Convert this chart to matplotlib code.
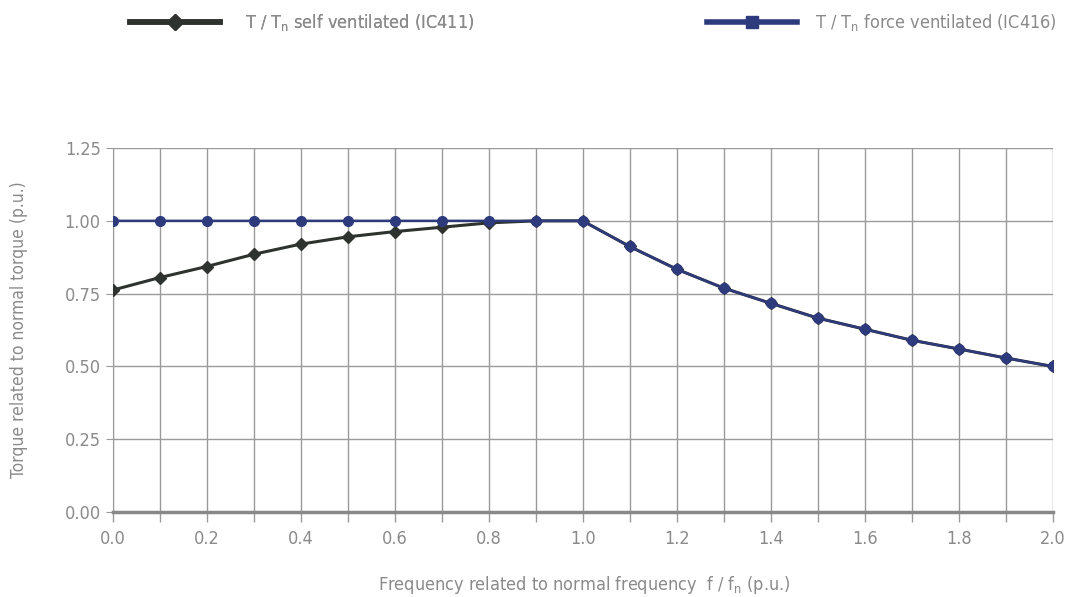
import matplotlib
matplotlib.use('Agg')
import matplotlib.pyplot as plt
from matplotlib.lines import Line2D
import numpy as np

plt.rcParams['font.family'] = ['DejaVu Sans']
plt.rcParams['font.stretch'] = 'condensed'

freq = [0.0, 0.1, 0.2, 0.3, 0.4, 0.5, 0.6, 0.7, 0.8, 0.9, 1.0,
        1.1, 1.2, 1.3, 1.4, 1.5, 1.6, 1.7, 1.8, 1.9, 2.0]
self_vent = [0.762, 0.805, 0.843, 0.885, 0.92, 0.945, 0.963, 0.978, 0.993, 1.0, 1.0,
             0.912, 0.834, 0.769, 0.717, 0.666, 0.628, 0.59, 0.56, 0.529, 0.5]
force_vent = [1.0, 1.0, 1.0, 1.0, 1.0, 1.0, 1.0, 1.0, 1.0, 1.0, 1.0,
              0.912, 0.834, 0.769, 0.717, 0.666, 0.628, 0.59, 0.56, 0.529, 0.5]
x_ticks = [0.0, 0.1, 0.2, 0.3, 0.4, 0.5, 0.6, 0.7, 0.8, 0.9, 1.0,
           1.1, 1.2, 1.3, 1.4, 1.5, 1.6, 1.7, 1.8, 1.9, 2.0]
y_ticks = [0.0, 0.25, 0.5, 0.75, 1.0, 1.25]

dark = '#2f332f'
blue = '#2d3a7c'
grey_txt = '#8a8a8a'
grid_c = '#9a9a9a'

fig = plt.figure(figsize=(10.72, 5.97), dpi=100)
ax = fig.add_axes([0.105, 0.1424, 0.877, 0.6096])

ax.plot(freq, self_vent, color=dark, lw=2.2, marker='D', ms=6, zorder=3)
ax.plot(freq, force_vent, color=blue, lw=1.8, marker='o', ms=7, zorder=4)

ax.set_xlim(0, 2.0)
ax.set_ylim(0, 1.25)
ax.set_xticks(x_ticks)
ax.set_xticklabels(['%.1f' % v if i % 2 == 0 else '' for i, v in enumerate(x_ticks)])
ax.set_yticks(y_ticks)
ax.set_yticklabels(['%.2f' % v for v in y_ticks])
ax.grid(True, color=grid_c, lw=1.0)
ax.tick_params(axis='x', length=7, color=grid_c, width=1, labelsize=13,
               labelcolor=grey_txt, pad=6)
ax.tick_params(axis='y', length=5, color=grid_c, labelsize=13, labelcolor=grey_txt)

for s in ['top', 'right']:
    ax.spines[s].set_visible(False)
ax.spines['left'].set_color(grid_c)
ax.spines['bottom'].set_color('#888888')
ax.spines['bottom'].set_linewidth(2.5)

ax.set_ylabel('Torque related to normal torque (p.u.)', color=grey_txt, fontsize=12.5, labelpad=26)
fig.text(0.545, 0.012, r'Frequency related to normal frequency  f / f$_\mathregular{n}$ (p.u.)',
         color=grey_txt, fontsize=13, ha='center')

# legend along the top
h1 = Line2D([], [], color=dark, lw=4, marker='D', ms=8)
h2 = Line2D([], [], color=blue, lw=4, marker='s', ms=8)
leg1 = fig.legend([h1], [r'T / T$_\mathregular{n}$ self ventilated (IC411)'],
                  loc='center left', bbox_to_anchor=(0.121, 0.962), frameon=False,
                  borderpad=0, borderaxespad=0,
                  handlelength=5.0, fontsize=13, labelcolor=grey_txt, handletextpad=1.4)
leg2 = fig.legend([h2], [r'T / T$_\mathregular{n}$ force ventilated (IC416)'],
                  loc='center left', bbox_to_anchor=(0.6595, 0.962), frameon=False,
                  borderpad=0, borderaxespad=0,
                  handlelength=5.0, fontsize=13, labelcolor=grey_txt, handletextpad=1.0)
fig.add_artist(leg1)

fig.savefig('out.png', dpi=100)
